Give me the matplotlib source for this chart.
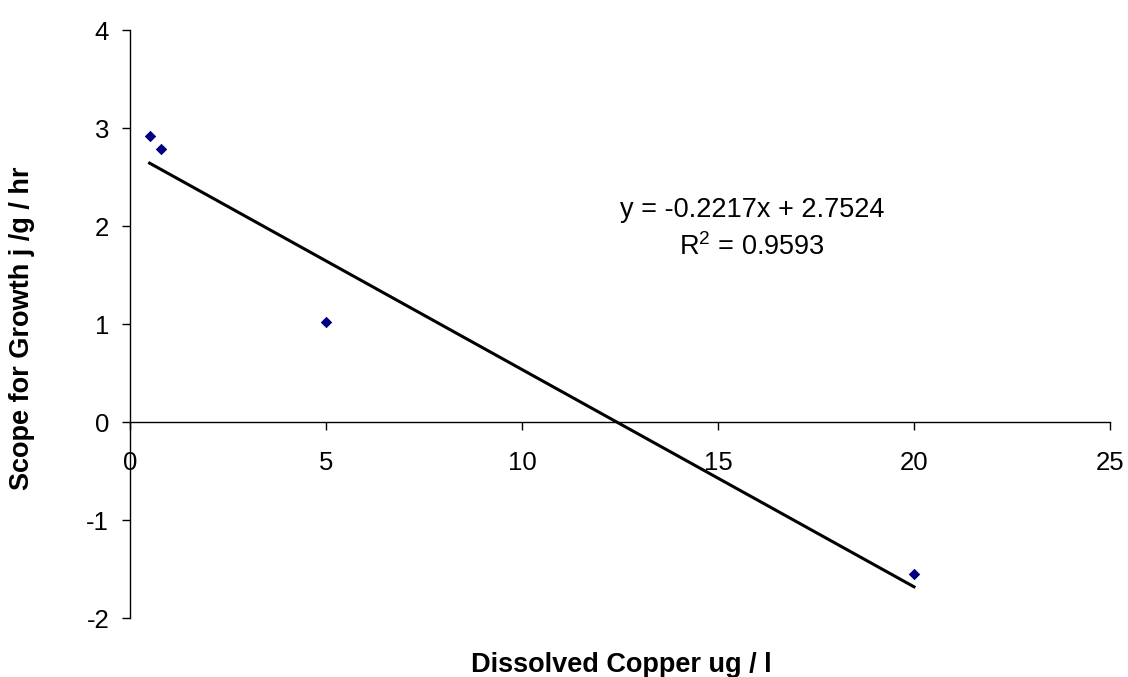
import matplotlib
matplotlib.use("Agg")
import matplotlib.pyplot as plt
import numpy as np

plt.rcParams['font.family'] = ['Liberation Sans', 'DejaVu Sans']
plt.rcParams['axes.unicode_minus'] = False
plt.rcParams['mathtext.fontset'] = 'custom'
plt.rcParams['mathtext.rm'] = 'Liberation Sans'

copper = [0.5, 0.8, 5, 20]
scope = [2.92, 2.79, 1.02, -1.55]
slope = -0.2217
intercept = 2.7524
r2 = 0.9593
xticks = [0, 5, 10, 15, 20, 25]
yticks = [-2, -1, 0, 1, 2, 3, 4]

fig = plt.figure(figsize=(11.28, 6.77), dpi=100)
ax = fig.add_axes([130/1128, 1-618/677, (1110-130)/1128, (618-30)/677])

ax.scatter(copper, scope, marker='D', s=34, color='#000080', zorder=3, linewidths=0)
xl = np.array([min(copper), max(copper)])
ax.plot(xl, slope*xl + intercept, color='black', lw=2.2, zorder=2)

ax.set_xlim(0, 25)
ax.set_ylim(-2, 4)
ax.set_xticks(xticks)
ax.set_yticks(yticks)
ax.spines['top'].set_visible(False)
ax.spines['right'].set_visible(False)
ax.spines['bottom'].set_position(('data', 0))
ax.spines['left'].set_position(('data', 0))
for s in ['bottom', 'left']:
    ax.spines[s].set_linewidth(1)
    ax.spines[s].set_color('black')
ax.tick_params(axis='both', direction='out', length=6, width=1, labelsize=18.5, color='black')
ax.tick_params(axis='x', pad=15)
ax.tick_params(axis='y', pad=9)

fig.text(621/1128, 1-665/677, 'Dissolved Copper ug / l', ha='center', va='center',
         fontsize=19.5, fontweight='bold')
fig.text(22/1128, 1-328/677, 'Scope for Growth j /g / hr', ha='center', va='center',
         rotation=90, fontsize=19.5, fontweight='bold')

ax.text(15.87, 2.092, f'y = {slope}x + {intercept}', ha='center', va='baseline', fontsize=19.5)
ax.text(15.87, 1.704, f'R$^2$ = {r2}', ha='center', va='baseline', fontsize=19.5)

fig.savefig('out.png', dpi=100)
